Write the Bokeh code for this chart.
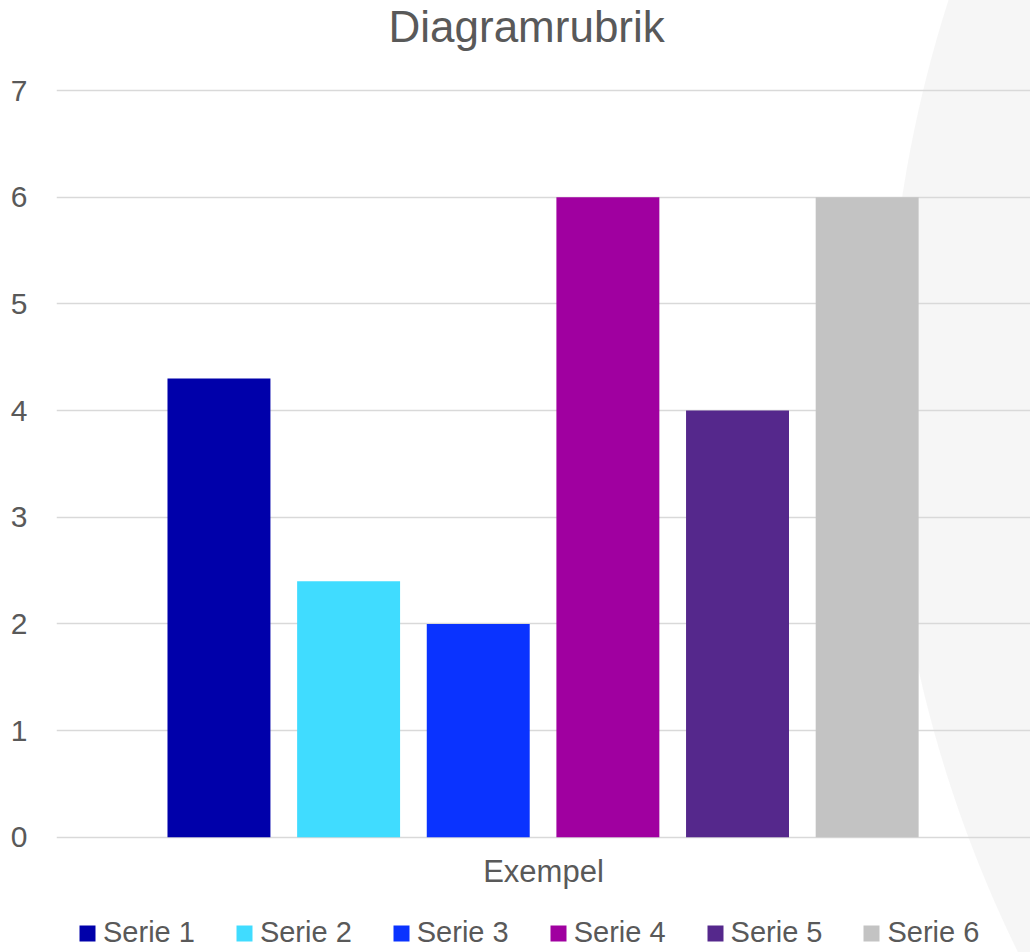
from bokeh.plotting import figure
from bokeh.models import (ColumnDataSource, FactorRange, Range1d, FixedTicker,
                          Legend, LegendItem, Title)
from bokeh.transform import dodge
from bokeh.embed import file_html
from bokeh.resources import INLINE

# ---- data ----
categories = ["Exempel"]
series = ["Serie 1", "Serie 2", "Serie 3", "Serie 4", "Serie 5", "Serie 6"]
values = [4.3, 2.4, 2.0, 6.0, 4.0, 6.0]
colors = ["#0000AA", "#40DCFF", "#0A33FF", "#A000A0", "#55288C", "#C3C3C3"]
y_ticks = [0, 1, 2, 3, 4, 5, 6, 7]
title_text = "Diagramrubrik"

FONT = "Liberation Sans"
TXT = "#595959"
W, H = 1030, 952
TOP, LEFT = 88, 56
# the frame reaches the page bottom; the value axis 0..7 spans px 837..90
Y_LO, Y_HI = -1.0805, 7.0188

p = figure(width=W, height=H, title=None,
           x_range=FactorRange(factors=categories),
           y_range=Range1d(Y_LO, Y_HI), output_backend="svg",
           toolbar_location=None, min_border_left=LEFT, min_border_right=0,
           min_border_top=TOP, min_border_bottom=0)
p.outline_line_color = None
p.background_fill_alpha = 0
p.border_fill_alpha = 0
# decorative light arc in the page background (behind the transparent canvas)
p.styles = {
    "background-color": "#FFFFFF",
    "background-image": "radial-gradient(circle 1277px at 2164px 390px, "
                        "#F6F6F6 1276px, #FFFFFF 1277px)",
}

# bars
spacing = 0.1331
bar_w = 0.1057
start = -0.3332
items = []
for i, (s, v, c) in enumerate(zip(series, values, colors)):
    src = ColumnDataSource(dict(cat=categories, val=[v]))
    r = p.vbar(x=dodge("cat", start + i * spacing, range=p.x_range), top="val",
               bottom=0, width=bar_w, source=src, fill_color=c,
               line_color=None)
    items.append(LegendItem(label=s, renderers=[r]))

# axes
p.yaxis.ticker = FixedTicker(ticks=y_ticks)
p.xaxis.fixed_location = 0
for ax in (p.xaxis, p.yaxis):
    ax.axis_line_color = None
    ax.major_tick_line_color = None
    ax.minor_tick_line_color = None
    ax.major_tick_out = 0
    ax.major_tick_in = 0
    ax.major_label_text_font = FONT
    ax.major_label_text_color = TXT
p.yaxis.major_label_text_font_size = "30px"
p.xaxis.major_label_text_font_size = "31px"
p.yaxis.major_label_standoff = 29
p.xaxis.major_label_standoff = 17

p.xgrid.grid_line_color = None
p.ygrid.grid_line_color = "#D9D9D9"
p.ygrid.grid_line_width = 1.5

# title (spacer first = closest to the frame, then the title itself)
p.add_layout(Title(text=" ", text_font_size="2px", standoff=32), "above")
p.add_layout(Title(text=title_text, align="left", offset=332,
                   vertical_align="top",
                   text_font=FONT, text_font_size="44px",
                   text_font_style="normal", text_color=TXT, standoff=0),
             "above")

legend = Legend(items=items, orientation="horizontal", location=(21, 3),
                label_text_font=FONT, label_text_font_size="29px",
                label_text_color=TXT, glyph_width=20, glyph_height=20,
                label_height=20, label_standoff=6, spacing=39, padding=0,
                margin=0, border_line_color=None, background_fill_alpha=0)
p.add_layout(legend)

open("out.html", "w").write(file_html(p, INLINE))
